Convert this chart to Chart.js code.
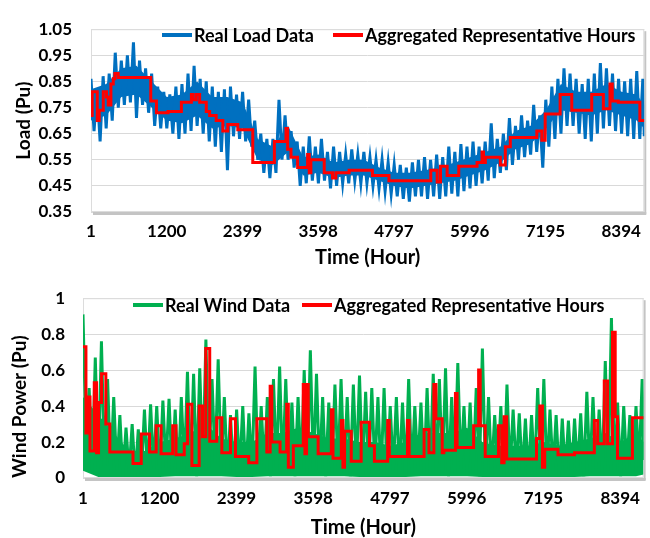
<!DOCTYPE html>
<html>
<head>
<meta charset="utf-8">
<script src="https://cdn.jsdelivr.net/npm/chart.js@4.4.1/dist/chart.umd.min.js"></script>
<style>
  html, body { margin: 0; padding: 0; background: #fff; }
  #wrap { position: relative; width: 650px; height: 538px; }
  #loadBox { position: absolute; left: 0; top: 0; width: 650px; height: 270px; }
  #windBox { position: absolute; left: 0; top: 270px; width: 650px; height: 268px; }
</style>
</head>
<body>
<div id="wrap">
  <div id="loadBox"><canvas id="loadChart" width="650" height="270"></canvas></div>
  <div id="windBox"><canvas id="windChart" width="650" height="268"></canvas></div>
</div>
<script>
// x axis (hours of the year)
const LAST_HOUR = 8760;
const xTickHours = [1, 1200, 2399, 3598, 4797, 5996, 7195, 8394];
const loadTicks = [0.35, 0.45, 0.55, 0.65, 0.75, 0.85, 0.95, 1.05];
const windTicks = [0, 0.2, 0.4, 0.6, 0.8, 1];

const HOUR_STEP = 96;
const loadHi = [0.86, 0.82, 0.87, 0.88, 0.96, 0.93, 0.95, 1.00, 0.93, 0.90, 0.88, 0.83, 0.81, 0.80, 0.83, 0.84, 0.88, 0.91, 0.86, 0.85, 0.83, 0.81, 0.82,
  0.83, 0.80, 0.81, 0.78, 0.70, 0.65, 0.63, 0.63, 0.78, 0.72, 0.66, 0.62, 0.60, 0.64, 0.60, 0.63, 0.58, 0.60, 0.58, 0.57, 0.59, 0.57, 0.58, 0.56, 0.55, 0.55, 0.54, 0.53, 0.53, 0.52, 0.54,
  0.55, 0.56, 0.55, 0.57, 0.56, 0.60, 0.58, 0.61, 0.60, 0.62, 0.60, 0.62, 0.69, 0.63, 0.65, 0.71, 0.68, 0.72, 0.70, 0.76, 0.72, 0.78, 0.83, 0.86, 0.90, 0.88, 0.86, 0.84, 0.86, 0.88, 0.92, 0.90, 0.88, 0.86, 0.85, 0.86, 0.89, 0.86];
const loadLo = [0.66, 0.62, 0.67, 0.70, 0.75, 0.76, 0.77, 0.71, 0.76, 0.73, 0.68, 0.67, 0.67, 0.65, 0.63, 0.65, 0.66, 0.68, 0.65, 0.62, 0.60, 0.58, 0.51,
  0.64, 0.63, 0.62, 0.60, 0.55, 0.50, 0.48, 0.50, 0.55, 0.55, 0.52, 0.45, 0.46, 0.47, 0.46, 0.47, 0.44, 0.45, 0.46, 0.46, 0.47, 0.46, 0.46, 0.45, 0.44, 0.43, 0.42, 0.41, 0.40, 0.39, 0.41,
  0.41, 0.40, 0.41, 0.40, 0.41, 0.42, 0.41, 0.43, 0.44, 0.45, 0.46, 0.47, 0.48, 0.50, 0.51, 0.53, 0.55, 0.56, 0.57, 0.58, 0.52, 0.60, 0.63, 0.65, 0.68, 0.68, 0.65, 0.63, 0.62, 0.65, 0.67, 0.68, 0.66, 0.65, 0.64, 0.63, 0.63, 0.61];
const loadLast = 0.64;

const windHi = [0.91, 0.50, 0.67, 0.76, 0.55, 0.45, 0.35, 0.28, 0.30, 0.27, 0.38, 0.41, 0.40, 0.43, 0.44, 0.38, 0.45, 0.59, 0.58, 0.61, 0.77, 0.55, 0.66, 0.45,
  0.35, 0.38, 0.40, 0.36, 0.62, 0.40, 0.45, 0.55, 0.62, 0.55, 0.42, 0.45, 0.60, 0.71, 0.58, 0.45, 0.42, 0.52, 0.55, 0.45, 0.52, 0.57, 0.48, 0.50, 0.45, 0.50, 0.40, 0.45, 0.42, 0.55, 0.40, 0.42, 0.50, 0.58,
  0.55, 0.61, 0.45, 0.64, 0.40, 0.42, 0.50, 0.72, 0.45, 0.35, 0.40, 0.52, 0.38, 0.36, 0.33, 0.35, 0.50, 0.55, 0.38, 0.35, 0.33, 0.32, 0.33, 0.36, 0.48, 0.45, 0.38, 0.65, 0.89, 0.42, 0.40, 0.35, 0.40, 0.55];
const windLo = [0.20, 0.03, 0.05, 0.06, 0.03, 0.04, 0.01, 0.03, 0.01, 0.02, 0.03, 0.05, 0.02, 0.06, 0.03, 0.02, 0.05, 0.02, 0.01, 0.04, 0.06, 0.08, 0.05, 0.03,
  0.02, 0.04, 0.01, 0.03, 0.02, 0.05, 0.01, 0.04, 0.02, 0.03, 0.01, 0.05, 0.02, 0.04, 0.03, 0.01, 0.02, 0.05, 0.03, 0.01, 0.04, 0.02, 0.03, 0.05, 0.01, 0.02, 0.04, 0.02, 0.01, 0.03, 0.05, 0.02, 0.03, 0.04,
  0.02, 0.01, 0.03, 0.05, 0.02, 0.04, 0.01, 0.03, 0.02, 0.05, 0.01, 0.03, 0.04, 0.02, 0.01, 0.03, 0.05, 0.02, 0.04, 0.01, 0.03, 0.02, 0.04, 0.01, 0.03, 0.05, 0.02, 0.04, 0.03, 0.01, 0.05, 0.02, 0.06, 0.08];
const windLast = 0.10;

// dense middle of each trace (where the hourly swings overlap), read every 240 h
const CORE_STEP = 240;
const loadCoreHi = [0.82, 0.84, 0.90, 0.91, 0.85, 0.79, 0.80, 0.85, 0.79, 0.79, 0.77, 0.63, 0.60, 0.68, 0.56, 0.57, 0.54, 0.55, 0.55,
  0.52, 0.50, 0.50, 0.51, 0.52, 0.54, 0.56, 0.58, 0.60, 0.66, 0.68, 0.74, 0.84, 0.81, 0.81, 0.84, 0.81, 0.80, 0.76];
const loadCoreLo = [0.70, 0.72, 0.79, 0.80, 0.75, 0.70, 0.69, 0.72, 0.67, 0.68, 0.67, 0.55, 0.53, 0.58, 0.49, 0.50, 0.48, 0.49, 0.49,
  0.47, 0.45, 0.44, 0.45, 0.46, 0.47, 0.49, 0.51, 0.54, 0.59, 0.61, 0.67, 0.74, 0.73, 0.72, 0.74, 0.72, 0.70, 0.67];
const windCoreHi = [0.45, 0.35, 0.25, 0.15, 0.15, 0.20, 0.22, 0.25, 0.30, 0.22, 0.20, 0.20, 0.25, 0.25, 0.28, 0.25, 0.22, 0.22, 0.20,
  0.20, 0.18, 0.20, 0.25, 0.25, 0.25, 0.28, 0.20, 0.18, 0.18, 0.18, 0.20, 0.18, 0.20, 0.22, 0.25, 0.20, 0.25, 0.20];
const windCoreLo = [0.04, 0.005, 0.005, 0.005, 0.005, 0.005, 0.01, 0.01, 0.01, 0.01, 0.005, 0.005, 0.01, 0.01, 0.01, 0.01, 0.01, 0.01, 0.005,
  0.005, 0.005, 0.005, 0.01, 0.01, 0.01, 0.01, 0.005, 0.005, 0.005, 0.005, 0.005, 0.005, 0.005, 0.01, 0.01, 0.01, 0.01, 0.02];

// aggregated representative hours: step start hour and level
const loadStepHours = [1, 20, 100, 131, 195, 247, 274, 316, 353, 379, 432, 947, 1037, 1221, 1432, 1590, 1616, 1668, 1721, 1826,
  1879, 1983, 2088, 2167, 2325, 2562, 2904, 3088, 3114, 3167, 3272, 3430, 3456, 3482, 3693, 3824, 3877, 4087, 4456, 4718,
  5380, 5481, 5534, 5639, 5823, 6113, 6192, 6215, 6244, 6481, 6560, 6639, 7059, 7138, 7191, 7428, 7612, 7928, 8112, 8217,
  8253, 8348, 8690, 8760];
const loadStepValues = [0.72, 0.81, 0.70, 0.74, 0.81, 0.79, 0.76, 0.84, 0.86, 0.88, 0.865, 0.775, 0.73, 0.735, 0.77, 0.80, 0.78, 0.80, 0.77, 0.735,
  0.72, 0.70, 0.66, 0.685, 0.665, 0.54, 0.62, 0.67, 0.59, 0.56, 0.52, 0.57, 0.50, 0.55, 0.50, 0.48, 0.50, 0.51, 0.49, 0.47,
  0.51, 0.465, 0.525, 0.49, 0.525, 0.54, 0.58, 0.54, 0.56, 0.53, 0.60, 0.635, 0.66, 0.625, 0.725, 0.80, 0.74, 0.80, 0.745, 0.84,
  0.775, 0.77, 0.70, 0.70];

const windStepHours = [1, 47, 68, 110, 177, 213, 244, 291, 358, 420, 782, 911, 1040, 1144, 1221, 1402, 1454, 1583, 1635, 1702,
  1816, 1868, 1919, 1981, 2090, 2170, 2305, 2383, 2590, 2718, 2873, 2925, 2951, 3080, 3183, 3209, 3287, 3442, 3468, 3494,
  3520, 3675, 3881, 3907, 4037, 4062, 4088, 4192, 4347, 4476, 4554, 4761, 4787, 5071, 5097, 5330, 5406, 5483, 5515, 5613,
  5639, 5820, 5846, 6104, 6182, 6207, 6285, 6492, 6543, 6580, 6621, 7086, 7138, 7179, 7215, 7422, 7680, 7990, 8042, 8145,
  8197, 8274, 8316, 8352, 8585, 8760];
const windStepValues = [0.73, 0.25, 0.45, 0.15, 0.53, 0.14, 0.42, 0.58, 0.30, 0.145, 0.08, 0.245, 0.145, 0.29, 0.135, 0.29, 0.13, 0.19, 0.41, 0.07,
  0.40, 0.23, 0.72, 0.205, 0.335, 0.14, 0.33, 0.12, 0.085, 0.33, 0.145, 0.51, 0.20, 0.145, 0.41, 0.06, 0.18, 0.52, 0.135, 0.52,
  0.23, 0.135, 0.38, 0.11, 0.32, 0.06, 0.26, 0.093, 0.31, 0.18, 0.093, 0.32, 0.12, 0.32, 0.12, 0.27, 0.14, 0.52, 0.33, 0.14,
  0.155, 0.47, 0.17, 0.29, 0.60, 0.29, 0.12, 0.29, 0.085, 0.34, 0.105, 0.22, 0.40, 0.06, 0.16, 0.13, 0.14, 0.32, 0.19, 0.54,
  0.19, 0.81, 0.34, 0.11, 0.335, 0.335];

const FONT = 'Lato';
const tickFont = { family: FONT, size: 17, weight: 'bold' };

function zigzag(hi, lo, lastValue) {
  const pts = [];
  hi.forEach((v, i) => {
    const h = 1 + i * HOUR_STEP;
    pts.push({ x: h, y: v });
    if (h + HOUR_STEP / 2 < LAST_HOUR) pts.push({ x: h + HOUR_STEP / 2, y: lo[i] });
  });
  pts.push({ x: LAST_HOUR, y: lastValue });
  return pts;
}

// core arrays: one value every CORE_STEP hours, the last one at hour 8760
function corePoints(values) {
  return values.map((v, i) => ({ x: Math.min(1 + i * CORE_STEP, LAST_HOUR), y: v }));
}

function steps(hours, values) {
  return hours.map((h, i) => ({ x: h, y: values[i] }));
}

// light frame with a drop shadow round the plot area, like the Excel original
const plotFrame = {
  id: 'plotFrame',
  beforeDatasetsDraw(chart) {
    const { ctx, chartArea: a } = chart;
    ctx.save();
    ctx.fillStyle = '#c4c4c4';
    ctx.fillRect(a.left + 2, a.bottom, a.right - a.left, 3);
    ctx.fillRect(a.right, a.top + 2, 2, a.bottom - a.top);
    ctx.strokeStyle = '#dcdcdc';
    ctx.lineWidth = 1;
    ctx.strokeRect(a.left + 0.5, a.top + 0.5, a.right - a.left - 1, a.bottom - a.top - 1);
    ctx.restore();
  }
};

const insideLegend = {
  id: 'insideLegend',
  afterDraw(chart, args, opts) {
    const ctx = chart.ctx;
    ctx.save();
    ctx.font = 'bold 18px ' + FONT;
    ctx.textBaseline = 'middle';
    opts.items.forEach(it => {
      const ds = chart.data.datasets[it.dataset];
      ctx.strokeStyle = ds.borderColor;
      ctx.lineWidth = 4;
      ctx.beginPath();
      ctx.moveTo(it.x, opts.y);
      ctx.lineTo(it.x + 30, opts.y);
      ctx.stroke();
      ctx.fillStyle = '#000';
      ctx.fillText(ds.label, it.x + 32, opts.y + 1);
    });
    ctx.restore();
  }
};

function makeChart(id, o) {
  const hidden = { borderWidth: 0, pointRadius: 0, tension: 0 };
  return new Chart(document.getElementById(id), {
    type: 'line',
    data: {
      datasets: [
        {
          label: o.realLabel,
          data: zigzag(o.hi, o.lo, o.last),
          borderColor: o.color,
          borderWidth: 3,
          pointRadius: 0,
          tension: 0,
          fill: false,
          order: 1
        },
        {
          label: 'Aggregated Representative Hours',
          data: steps(o.stepHours, o.stepValues),
          borderColor: '#ff0000',
          borderWidth: 3,
          pointRadius: 0,
          stepped: true,
          fill: false,
          order: 0
        },
        { label: 'core top', data: corePoints(o.coreHi), borderColor: o.color, backgroundColor: o.color, fill: '+1', order: 2, ...hidden },
        { label: 'core bottom', data: corePoints(o.coreLo), borderColor: o.color, fill: false, order: 3, ...hidden }
      ]
    },
    options: {
      responsive: false,
      animation: false,
      devicePixelRatio: 1,
      layout: { padding: o.padding },
      plugins: {
        legend: { display: false },
        tooltip: { enabled: false },
        insideLegend: { y: o.legendY, items: o.legendItems }
      },
      scales: {
        x: {
          type: 'linear',
          min: 1,
          max: LAST_HOUR,
          afterBuildTicks: s => { s.ticks = xTickHours.map(v => ({ value: v })); },
          afterFit: s => { s.height = o.xHeight; },
          grid: { display: false, drawTicks: false },
          border: { display: false },
          ticks: { autoSkip: false, maxRotation: 0, padding: o.xPad, color: '#000', font: tickFont, callback: v => String(v) },
          title: { display: true, text: 'Time (Hour)', color: '#000', font: { family: FONT, size: 20, weight: 'bold', lineHeight: o.xTitleLH }, padding: { top: 0, bottom: 0 } }
        },
        y: {
          min: o.yTicks[0],
          max: o.yTicks[o.yTicks.length - 1],
          afterBuildTicks: s => { s.ticks = o.yTicks.map(v => ({ value: v })); },
          afterFit: s => { s.width = o.yWidth; },
          grid: { color: '#d9d9d9', lineWidth: 1, drawTicks: false },
          border: { display: false },
          ticks: { padding: o.yPad, color: '#000', font: tickFont, callback: o.yFormat },
          title: { display: true, text: o.yTitle, align: o.yTitleAlign, color: '#000', font: { family: FONT, size: 19, weight: 'bold' }, padding: { top: o.yTitlePad, bottom: 0 } }
        }
      }
    },
    plugins: [plotFrame, insideLegend]
  });
}

makeChart('loadChart', {
  realLabel: 'Real Load Data', color: '#0070c0',
  hi: loadHi, lo: loadLo, last: loadLast, coreHi: loadCoreHi, coreLo: loadCoreLo,
  stepHours: loadStepHours, stepValues: loadStepValues,
  padding: { left: 0, right: 3, top: 19, bottom: 0 },
  xHeight: 58, xPad: 9, xTitleLH: 1.2,
  yWidth: 91, yPad: 19, yTicks: loadTicks, yFormat: v => v.toFixed(2),
  yTitle: 'Load (Pu)', yTitleAlign: 'center', yTitlePad: 12,
  legendY: 35, legendItems: [{ dataset: 0, x: 162 }, { dataset: 1, x: 333 }]
});

makeChart('windChart', {
  realLabel: 'Real Wind Data', color: '#00b050',
  hi: windHi, lo: windLo, last: windLast, coreHi: windCoreHi, coreLo: windCoreLo,
  stepHours: windStepHours, stepValues: windStepValues,
  padding: { left: 0, right: 2, top: 15, bottom: 0 },
  xHeight: 60, xPad: 10, xTitleLH: 1.0,
  yWidth: 83, yPad: 18, yTicks: windTicks, yFormat: v => String(v),
  yTitle: 'Wind Power (Pu)', yTitleAlign: 'start', yTitlePad: 8,
  legendY: 35, legendItems: [{ dataset: 0, x: 133 }, { dataset: 1, x: 302 }]
});
</script>
</body>
</html>
